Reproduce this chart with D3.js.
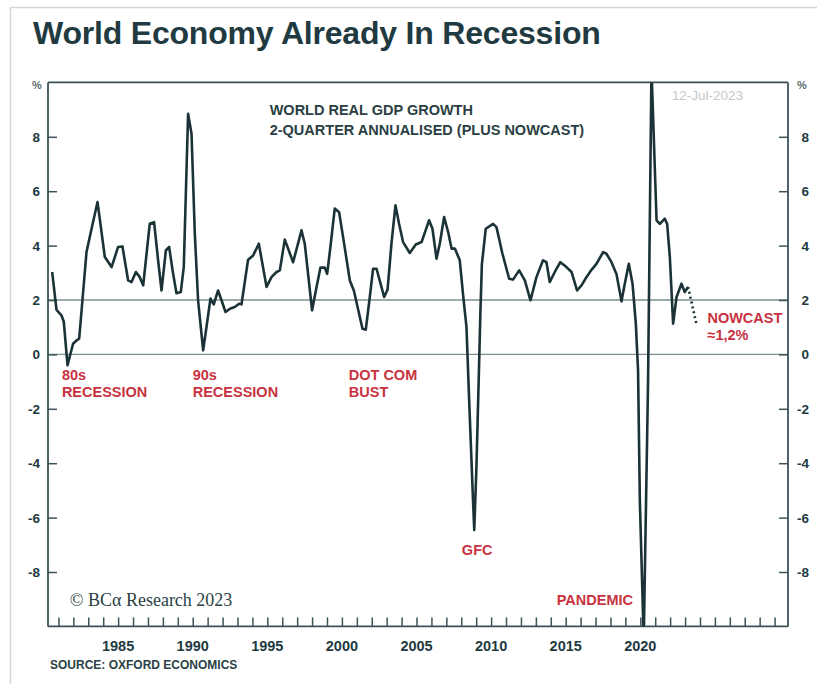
<!DOCTYPE html>
<html>
<head>
<meta charset="utf-8">
<script src="https://cdn.jsdelivr.net/npm/d3@7/dist/d3.min.js"></script>
<style>
  html, body { margin: 0; padding: 0; background: #ffffff; }
  svg { display: block; }
</style>
</head>
<body>
<script>
// ---- Data ----
const obsYears = [1980.58,1980.87,1981.21,1981.36,1981.61,1981.98,1982.21,1982.39,1982.61,1982.88,
  1983.22,1983.62,1984.11,1984.56,1985.00,1985.29,1985.67,1985.90,1986.19,1986.45,
  1986.68,1987.12,1987.41,1987.68,1987.91,1988.20,1988.42,1988.65,1988.91,1989.20,
  1989.40,1989.69,1989.92,1990.14,1990.36,1990.70,1990.92,1991.19,1991.41,1991.70,
  1991.93,1992.20,1992.49,1992.82,1993.11,1993.27,1993.71,1994.05,1994.43,1994.95,
  1995.28,1995.62,1995.84,1996.17,1996.73,1997.29,1997.51,1998.00,1998.30,1998.56,
  1998.85,1999.01,1999.23,1999.52,1999.81,2000.08,2000.53,2000.80,2001.38,2001.60,
  2001.87,2002.09,2002.32,2002.59,2002.83,2003.06,2003.32,2003.59,2003.83,2004.10,
  2004.55,2004.95,2005.34,2005.84,2006.07,2006.34,2006.56,2006.85,2007.12,2007.35,
  2007.57,2007.90,2008.12,2008.35,2008.53,2008.79,2008.87,2009.02,2009.19,2009.28,
  2009.38,2009.64,2010.13,2010.36,2010.76,2011.21,2011.47,2011.88,2012.26,2012.64,
  2013.04,2013.48,2013.71,2013.93,2014.27,2014.64,2015.05,2015.39,2015.76,2016.06,
  2016.39,2016.73,2017.06,2017.51,2017.73,2018.07,2018.40,2018.74,2018.96,2019.23,
  2019.48,2019.70,2019.85,2019.97,2020.23,2020.52,2020.75,2021.09,2021.31,2021.64,
  2021.80,2021.98,2022.20,2022.43,2022.76,2022.98,2023.20];
const obsGrowth = [3.03,1.64,1.43,1.19,-0.40,0.39,0.51,0.58,2.00,3.76,
  4.62,5.60,3.58,3.21,3.95,3.97,2.72,2.66,3.03,2.84,
  2.54,4.80,4.86,3.46,2.35,3.82,3.95,3.09,2.25,2.29,
  3.21,8.85,8.11,4.44,1.99,0.15,1.00,2.05,1.84,2.35,
  1.99,1.56,1.68,1.74,1.86,1.84,3.48,3.64,4.07,2.48,
  2.84,3.03,3.09,4.22,3.39,4.56,4.07,1.62,2.48,3.19,
  3.19,2.96,3.95,5.36,5.23,4.31,2.72,2.35,0.94,0.91,
  2.11,3.15,3.15,2.60,2.11,2.38,4.07,5.48,4.80,4.13,
  3.73,4.04,4.13,4.93,4.62,3.52,4.07,5.05,4.50,3.89,
  3.89,3.46,2.20,1.00,-1.70,-5.40,-6.45,-4.10,-0.47,1.50,
  3.30,4.62,4.80,4.68,3.70,2.78,2.75,3.09,2.72,1.99,
  2.84,3.46,3.39,2.66,3.03,3.39,3.21,3.03,2.35,2.54,
  2.84,3.11,3.33,3.76,3.70,3.39,2.96,1.95,2.60,3.33,
  2.60,1.13,-0.59,-5.40,-10.50,-1.00,10.50,4.93,4.80,4.99,
  4.80,3.58,1.13,2.11,2.60,2.29,2.48];
const nowcastYears = [2023.20, 2023.77];
const nowcastGrowth = [2.48, 1.10];

const yTickValues = [-8, -6, -4, -2, 0, 2, 4, 6, 8];
const yGridValues = [0, 2];
const xLabelYears = [1985, 1990, 1995, 2000, 2005, 2010, 2015, 2020];
const xMinorYears = d3.range(1981, 2030);

const annotations = [
  { lines: ["80s", "RECESSION"], year: 1981.23, value: -0.95 },
  { lines: ["90s", "RECESSION"], year: 1990.0, value: -0.95 },
  { lines: ["DOT COM", "BUST"], year: 2000.46, value: -0.95 },
  { lines: ["GFC"], year: 2008.04, value: -7.38 },
  { lines: ["PANDEMIC"], year: 2014.4, value: -9.21 },
  { lines: ["NOWCAST", "\u22481,2%"], year: 2024.5, value: 1.15 }
];

// ---- Layout ----
const W = 817, H = 684;
const margin = { left: 48, right: 29, top: 82.4, bottom: 57.6 };
const ink = "#1d3a3f";
const red = "#c8323f";

const x = d3.scaleLinear().domain([1980.3, 2029.9]).range([margin.left, W - margin.right]);
const y = d3.scaleLinear().domain([-10, 10]).range([H - margin.bottom, margin.top]);

const svg = d3.select("body").append("svg").attr("width", W).attr("height", H)
  .style("font-family", "'Liberation Sans', Arial, sans-serif");

// outer light frame
svg.append("rect").attr("x", 10.5).attr("y", 7.5).attr("width", W).attr("height", H)
  .attr("fill", "none").attr("stroke", "#d6d6d6").attr("stroke-width", 1.5);

// title
svg.append("text").attr("x", 33).attr("y", 44)
  .attr("font-size", 32).attr("font-weight", "bold").attr("fill", "#1f3a40")
  .attr("letter-spacing", -0.2)
  .text("World Economy Already In Recession");

const x0 = x.range()[0], x1 = x.range()[1], y0 = y.range()[0], y1 = y.range()[1];

// gridlines at 0 and 2
svg.append("g").selectAll("line").data(yGridValues).join("line")
  .attr("x1", x0).attr("x2", x1).attr("y1", d => y(d)).attr("y2", d => y(d))
  .attr("stroke", "#7d8f90").attr("stroke-width", 1.3);

// top frame
svg.append("line").attr("x1", x0).attr("x2", x1).attr("y1", y1).attr("y2", y1)
  .attr("stroke", "#3b5257").attr("stroke-width", 1.6);

// left axis
const leftAxis = svg.append("g").attr("transform", `translate(${x0},0)`)
  .call(d3.axisRight(y).tickValues(yTickValues).tickSize(9).tickFormat(""));
leftAxis.select(".domain").attr("d", `M0,${y1}V${y0}`);
svg.append("g").selectAll("text").data(yTickValues).join("text")
  .attr("x", 40).attr("y", d => y(d) + 5).attr("text-anchor", "end")
  .attr("font-size", 13.5).attr("font-weight", "bold").attr("fill", ink)
  .text(d => d);

// right axis
const rightAxis = svg.append("g").attr("transform", `translate(${x1},0)`)
  .call(d3.axisLeft(y).tickValues(yTickValues).tickSize(9).tickFormat(""));
rightAxis.select(".domain").attr("d", `M0,${y1}V${y0}`);
svg.append("g").selectAll("text").data(yTickValues).join("text")
  .attr("x", 809).attr("y", d => y(d) + 5).attr("text-anchor", "end")
  .attr("font-size", 13.5).attr("font-weight", "bold").attr("fill", ink)
  .text(d => d);

// bottom axis with yearly minor ticks
const bottomAxis = svg.append("g").attr("transform", `translate(0,${y0})`)
  .call(d3.axisTop(x).tickValues(xMinorYears).tickSize(9).tickFormat(""));
bottomAxis.select(".domain").attr("d", `M${x0},0H${x1}`);
svg.append("g").selectAll("text").data(xLabelYears).join("text")
  .attr("x", d => x(d)).attr("y", y0 + 25).attr("text-anchor", "middle")
  .attr("font-size", 14.5).attr("font-weight", "bold").attr("fill", ink)
  .text(d => d);

[leftAxis, rightAxis, bottomAxis].forEach(g => {
  g.selectAll(".domain").attr("stroke", "#3b5257").attr("stroke-width", 1.8);
  g.selectAll(".tick line").attr("stroke", "#3b5257").attr("stroke-width", 1.5);
});

// % labels
svg.append("text").attr("x", 37).attr("y", 89).attr("text-anchor", "middle")
  .attr("font-size", 11).attr("font-weight", "bold").attr("fill", "#5a6d70").text("%");
svg.append("text").attr("x", 802).attr("y", 89).attr("text-anchor", "middle")
  .attr("font-size", 11).attr("font-weight", "bold").attr("fill", "#5a6d70").text("%");

// clip
svg.append("clipPath").attr("id", "plotclip").append("rect")
  .attr("x", x0).attr("y", y1).attr("width", x1 - x0).attr("height", y0 - y1);

const line = d3.line().x(d => x(d[0])).y(d => y(d[1]));
const obs = obsYears.map((yr, i) => [yr, obsGrowth[i]]);
const now = nowcastYears.map((yr, i) => [yr, nowcastGrowth[i]]);

svg.append("path").attr("clip-path", "url(#plotclip)")
  .attr("d", line(obs)).attr("fill", "none").attr("stroke", "#1b3236")
  .attr("stroke-width", 2.6).attr("stroke-linejoin", "round");
svg.append("path").attr("clip-path", "url(#plotclip)")
  .attr("d", line(now)).attr("fill", "none").attr("stroke", "#1b3236")
  .attr("stroke-width", 2.6).attr("stroke-dasharray", "2,3");

// chart inner title
const sub = svg.append("text").attr("font-size", 14.5).attr("font-weight", "bold").attr("fill", "#2a3e43");
sub.append("tspan").attr("x", x(1995.16)).attr("y", y(8.8)).text("WORLD REAL GDP GROWTH");
sub.append("tspan").attr("x", x(1995.16)).attr("y", y(8.07)).text("2-QUARTER ANNUALISED (PLUS NOWCAST)");

// date stamp
svg.append("text").attr("x", x(2022.1)).attr("y", y(9.35))
  .attr("font-size", 13.5).attr("fill", "#c4c9cc").text("12-Jul-2023");

// annotations
annotations.forEach(a => {
  const t = svg.append("text").attr("font-size", 14.5).attr("fill", red).attr("font-weight", "bold");
  a.lines.forEach((ln, i) => {
    t.append("tspan").attr("x", x(a.year)).attr("y", y(a.value) + i * 17).text(ln);
  });
});

// copyright
svg.append("text").attr("x", x(1981.76)).attr("y", y(-9.25))
  .attr("font-family", "'Liberation Serif', 'Times New Roman', serif")
  .attr("font-size", 18).attr("fill", "#2a3f44").text("\u00A9 BC\u03B1 Research 2023");

// source
svg.append("text").attr("x", 50).attr("y", 669)
  .attr("font-size", 12).attr("font-weight", "bold").attr("fill", "#2b4045")
  .text("SOURCE: OXFORD ECONOMICS");
</script>
</body>
</html>
